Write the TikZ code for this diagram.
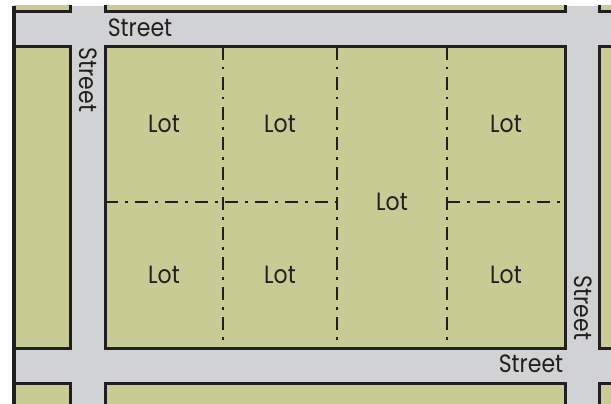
\documentclass[tikz,border=0pt]{standalone}
\usepackage{fontspec}
\setmainfont{Poppins}
\newfontfamily\plotfont[FakeStretch=0.88]{Poppins}
\usepackage{xcolor}
\usepackage{tikz}
\usetikzlibrary{positioning}
\definecolor{lotgreen}{HTML}{C9CB94}
\definecolor{streetgray}{HTML}{D1D2D4}
\definecolor{inkblack}{HTML}{231F20}

\begin{document}
\begin{tikzpicture}[x=1pt, y=-1pt,
  block/.style={fill=lotgreen, draw=inkblack, line width=3pt},
  lotline/.style={draw=inkblack, line width=2.8pt,
    dash pattern=on 13pt off 7pt on 2.5pt off 7.5pt},
  lbl/.style={font=\plotfont\fontsize{25}{25}\selectfont, text=inkblack, inner sep=0pt},
]
\useasboundingbox (0,0) rectangle (611,404);

% streets and blocks
\begin{scope}
  \clip (14,6) rectangle (611,404);
  \fill[streetgray] (14,6) rectangle (611,404);
  \foreach \xa/\xb in {-30/70, 105/565, 599/700}
    \foreach \ya/\yb in {-30/12, 47/348, 383/450}
      \draw[block] (\xa,\ya) rectangle (\xb,\yb);
\end{scope}
\draw[inkblack, line width=4pt] (14,6) -- (14,404);

% lot lines
\coordinate (a1) at (223,47);  \coordinate (a2) at (223,348);
\coordinate (b1) at (337,47);  \coordinate (b2) at (337,348);
\coordinate (c1) at (447,47);  \coordinate (c2) at (447,348);
\coordinate (m1) at (105,202); \coordinate (m2) at (337,202);
\coordinate (m3) at (447,202); \coordinate (m4) at (565,202);
\draw[lotline] (a1) -- (a2);
\draw[lotline] (b1) -- (b2);
\draw[lotline] (c1) -- (c2);
\draw[lotline] (m1) -- (m2);
\draw[lotline] (m3) -- (m4);

\node[lbl] (lot1) at (164,124) {Lot};
\node[lbl] (lot2) at (280,124) {Lot};
\node[lbl] (lot3) at (506,124) {Lot};
\node[lbl] (lot4) at (392,202) {Lot};
\node[lbl] (lot5) at (164,275) {Lot};
\node[lbl] (lot6) at (280,275) {Lot};
\node[lbl] (lot7) at (506,275) {Lot};

\node[lbl] (st1) at (140,28) {Street};
\node[lbl, rotate=-90] (st2) at (88,80) {Street};
\node[lbl, rotate=-90] (st3) at (583,308) {Street};
\node[lbl] (st4) at (531,364) {Street};

\end{tikzpicture}
\end{document}
